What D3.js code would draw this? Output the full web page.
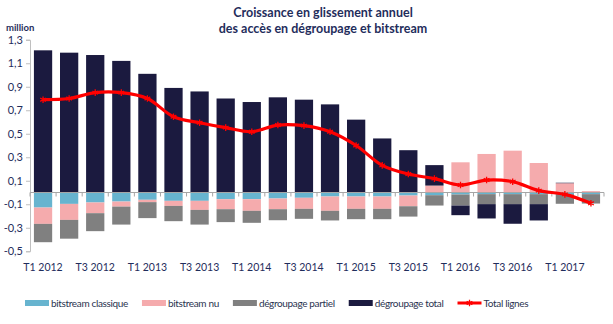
<!DOCTYPE html>
<html>
<head>
<meta charset="utf-8">
<script src="https://cdn.jsdelivr.net/npm/d3@7"></script>
<style>
  html, body { margin: 0; padding: 0; background: #fff; }
  svg { display: block; font-family: Lato, "Open Sans", sans-serif; }
</style>
</head>
<body>
<svg id="chart" width="613" height="324"></svg>
<script>
// Quarters T1 2012 .. T2 2017
const QUARTERS = [
  "T1 2012", "T2 2012", "T3 2012", "T4 2012",
  "T1 2013", "T2 2013", "T3 2013", "T4 2013",
  "T1 2014", "T2 2014", "T3 2014", "T4 2014",
  "T1 2015", "T2 2015", "T3 2015", "T4 2015",
  "T1 2016", "T2 2016", "T3 2016", "T4 2016",
  "T1 2017", "T2 2017"
];

// Year-on-year growth, million lines
const BITSTREAM_CLASSIQUE = [-0.128, -0.097, -0.085, -0.077, -0.062, -0.071, -0.071, -0.057, -0.057, -0.051, -0.045,
  -0.034, -0.034, -0.034, -0.026, -0.023, -0.017, -0.014, -0.014, -0.014, -0.014, -0.014];
const BITSTREAM_NU = [-0.139, -0.136, -0.091, -0.043, -0.020, -0.043, -0.077, -0.085, -0.099, -0.091, -0.094,
  -0.122, -0.105, -0.105, -0.091, 0.059, 0.257, 0.328, 0.356, 0.251, 0.079, 0.012];
const DEGROUPAGE_PARTIEL = [-0.156, -0.160, -0.153, -0.153, -0.136, -0.130, -0.125, -0.110, -0.102, -0.094, -0.085,
  -0.082, -0.088, -0.088, -0.088, -0.088, -0.094, -0.085, -0.085, -0.085, -0.082, -0.080];
const DEGROUPAGE_TOTAL = [1.21, 1.19, 1.17, 1.12, 1.01, 0.89, 0.86, 0.80, 0.77, 0.81, 0.79,
  0.75, 0.62, 0.46, 0.36, 0.174, -0.082, -0.122, -0.167, -0.139, 0.004, 0];
const TOTAL_LIGNES = [0.79, 0.80, 0.85, 0.85, 0.80, 0.645, 0.594, 0.552, 0.517, 0.574, 0.569,
  0.517, 0.40, 0.231, 0.157, 0.118, 0.064, 0.106, 0.092, 0.016, -0.016, -0.092];

const Y_TICKS = [1.3, 1.1, 0.9, 0.7, 0.5, 0.3, 0.1, -0.1, -0.3, -0.5];

const SERIES = [
  { key: "bitstream classique", values: BITSTREAM_CLASSIQUE, color: "#67b4cf" },
  { key: "bitstream nu",        values: BITSTREAM_NU,        color: "#f5abad" },
  { key: "dégroupage partiel",  values: DEGROUPAGE_PARTIEL,  color: "#808080" },
  { key: "dégroupage total",    values: DEGROUPAGE_TOTAL,    color: "#1b1a3f" }
];
const LINE_COLOR = "#ff0000";
const TEXT_COLOR = "#1f2d5c";

const svg = d3.select("#chart");
const plot = { left: 30, right: 604, top: 39.75, bottom: 251.25 };

// Scales
const x = d3.scaleBand()
  .domain(d3.range(QUARTERS.length))
  .range([plot.left, plot.right])
  .paddingInner(0.3)
  .paddingOuter(0.15);

const y = d3.scaleLinear()
  .domain([-0.5, 1.3])
  .range([plot.bottom, plot.top]);

const fmt = d => d3.format(".1f")(d).replace(".", ",").replace("−", "-");

// Title
svg.append("text")
  .attr("x", 323).attr("y", 17)
  .attr("text-anchor", "middle")
  .attr("font-size", "12.5px").attr("font-weight", "700")
  .attr("fill", TEXT_COLOR)
  .text("Croissance en glissement annuel");
svg.append("text")
  .attr("x", 323).attr("y", 33)
  .attr("text-anchor", "middle")
  .attr("font-size", "12.5px").attr("font-weight", "700")
  .attr("fill", TEXT_COLOR)
  .text("des accès en dégroupage et bitstream");

svg.append("text")
  .attr("x", 6).attr("y", 31)
  .attr("font-size", "9.5px").attr("font-weight", "700")
  .attr("fill", TEXT_COLOR)
  .text("million");

// Y axis
svg.append("g")
  .attr("transform", `translate(${plot.left},0)`)
  .call(d3.axisLeft(y).tickValues(Y_TICKS).tickFormat(fmt).tickSize(4).tickPadding(3))
  .call(g => g.select(".domain").attr("stroke", "#bfbfbf"))
  .call(g => g.selectAll(".tick line").attr("stroke", "#bfbfbf"))
  .call(g => g.selectAll(".tick text")
    .attr("fill", TEXT_COLOR)
    .attr("font-size", "11px")
    .attr("font-family", "Lato, sans-serif"));

// Stacked bars (diverging around zero)
const rows = QUARTERS.map((q, i) => {
  const r = { i };
  SERIES.forEach(s => { r[s.key] = s.values[i]; });
  return r;
});
const stacked = d3.stack()
  .keys(SERIES.map(s => s.key))
  .offset(d3.stackOffsetDiverging)(rows);

svg.append("g")
  .selectAll("g")
  .data(stacked)
  .join("g")
  .attr("fill", (d, k) => SERIES[k].color)
  .selectAll("rect")
  .data(d => d)
  .join("rect")
  .attr("x", d => x(d.data.i))
  .attr("width", x.bandwidth())
  .attr("y", d => y(Math.max(d[0], d[1])))
  .attr("height", d => Math.abs(y(d[0]) - y(d[1])));

// Zero line with category ticks at band boundaries
const half = (x.step() - x.bandwidth()) / 2;
const bounds = d3.range(QUARTERS.length + 1).map(i =>
  i < QUARTERS.length ? x(i) - half : x(i - 1) + x.bandwidth() + half);

const zeroG = svg.append("g");
zeroG.append("line")
  .attr("x1", plot.left).attr("x2", plot.right)
  .attr("y1", y(0)).attr("y2", y(0))
  .attr("stroke", "#a6a6a6");
zeroG.selectAll(".qtick")
  .data(bounds)
  .join("line")
  .attr("class", "qtick")
  .attr("x1", d => d).attr("x2", d => d)
  .attr("y1", y(0)).attr("y2", y(0) + 4)
  .attr("stroke", "#a6a6a6");

// Category labels (every other quarter)
svg.append("g")
  .attr("transform", `translate(0,${plot.bottom + 6})`)
  .call(d3.axisBottom(x).tickSize(0).tickPadding(6)
    .tickFormat(i => i % 2 === 0 ? QUARTERS[i] : ""))
  .call(g => g.select(".domain").remove())
  .call(g => g.selectAll(".tick text")
    .attr("fill", TEXT_COLOR)
    .attr("font-size", "10.5px")
    .attr("font-family", "Lato, sans-serif"));

// Total line
const line = d3.line()
  .x((d, i) => x(i) + x.bandwidth() / 2)
  .y(d => y(d))
  .curve(d3.curveCatmullRom);

svg.append("path")
  .datum(TOTAL_LIGNES)
  .attr("d", line)
  .attr("fill", "none")
  .attr("stroke", LINE_COLOR)
  .attr("stroke-width", 3.2)
  .attr("stroke-linejoin", "round");

const marker = d3.symbol(d3.symbolAsterisk, 30);
svg.append("g")
  .selectAll("path")
  .data(TOTAL_LIGNES)
  .join("path")
  .attr("transform", (d, i) => `translate(${x(i) + x.bandwidth() / 2},${y(d)})`)
  .attr("d", marker)
  .attr("fill", "none")
  .attr("stroke", LINE_COLOR)
  .attr("stroke-width", 1.3);

// Legend
const legend = svg.append("g").attr("transform", "translate(0,303)");
const legendItems = SERIES.map(s => ({ label: s.key, color: s.color, type: "rect" }))
  .concat([{ label: "Total lignes", color: LINE_COLOR, type: "line" }]);

let lx = 25;
legendItems.forEach(item => {
  const g = legend.append("g").attr("transform", `translate(${lx},0)`);
  if (item.type === "rect") {
    g.append("rect").attr("x", 0).attr("y", -3).attr("width", 24).attr("height", 6)
      .attr("fill", item.color);
  } else {
    g.append("line").attr("x1", 0).attr("x2", 24).attr("y1", 0).attr("y2", 0)
      .attr("stroke", item.color).attr("stroke-width", 3);
    g.append("path").attr("transform", "translate(12,0)").attr("d", marker)
      .attr("fill", "none").attr("stroke", item.color).attr("stroke-width", 1.3);
  }
  const t = g.append("text")
    .attr("x", 26).attr("y", 3.5)
    .attr("font-size", "10px")
    .attr("letter-spacing", "-0.35px")
    .attr("fill", "#2a3350")
    .text(item.label);
  lx += 26 + t.node().getComputedTextLength() + 14;
});
</script>
</body>
</html>
